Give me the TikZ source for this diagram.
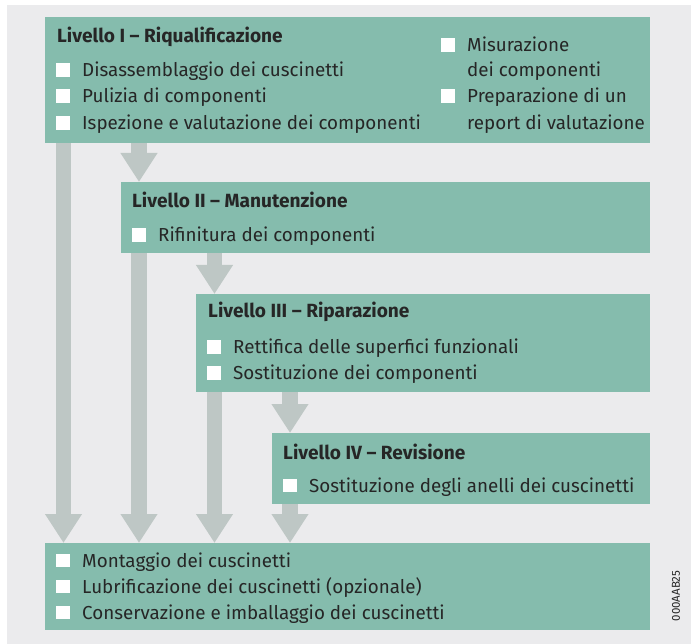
\documentclass[tikz,border=0pt]{standalone}
\usepackage{fontspec}
\setmainfont{Fira Sans}
\usetikzlibrary{arrows.meta}
\definecolor{bgray}{HTML}{EBEBED}
\definecolor{teal}{HTML}{85BCAD}
\definecolor{agray}{HTML}{BEC7C5}
\definecolor{txtc}{HTML}{262626}
\tikzset{
  box/.style={fill=teal, draw=none},
  txt/.style={anchor=base west, inner sep=0pt, font=\fontsize{18.8}{22}\selectfont, text=txtc},
  ttl/.style={txt, font=\fontsize{19.1}{22}\selectfont\bfseries},
  bigarrow/.style={draw=agray, line width=15.5pt, -{Triangle[width=35pt,length=29pt]}, fill=agray},
  chkbox/.style={fill=white}
}
\newcommand\chkitem[4]{%
  \fill[chkbox] (#2-26,#3-13.5) rectangle ++(14,13.5);
  \node[txt] (#1) at (#2,#3) {#4};}
\begin{document}
\begin{tikzpicture}[x=1pt,y=-1pt]
\useasboundingbox (0,0) rectangle (691,644);
\fill[white] (0,0) rectangle (691,644);
\fill[bgray] (7,5) rectangle (691,644);
% boxes
\node[box, minimum width=605pt, minimum height=126pt, anchor=north west, inner sep=0] (b1) at (45,17) {};
\node[box, minimum width=529pt, minimum height=71pt, anchor=north west, inner sep=0] (b2) at (121,182) {};
\node[box, minimum width=454pt, minimum height=98pt, anchor=north west, inner sep=0] (b3) at (196,294) {};
\node[box, minimum width=378pt, minimum height=71pt, anchor=north west, inner sep=0] (b4) at (272,433) {};
\node[box, minimum width=605pt, minimum height=87pt, anchor=north west, inner sep=0] (b5) at (45,543) {};
% arrow columns
\coordinate (cA) at (63.5,0);
\coordinate (cB) at (139,0);
\coordinate (cC) at (214.5,0);
\coordinate (cD) at (290,0);
\draw[bigarrow] (b1.south -| cA) -- (b5.north -| cA);
\draw[bigarrow] (b1.south -| cB) -- (b2.north -| cB);
\draw[bigarrow] (b2.south -| cB) -- (b5.north -| cB);
\draw[bigarrow] (b2.south -| cC) -- (b3.north -| cC);
\draw[bigarrow] (b3.south -| cC) -- (b5.north -| cC);
\draw[bigarrow] (b3.south -| cD) -- (b4.north -| cD);
\draw[bigarrow] (b4.south -| cD) -- (b5.north -| cD);
% box 1
\node[ttl] (t1) at (57,43) {Livello I – Riqualificazione};
\chkitem{i11}{82}{77}{Disassemblaggio dei cuscinetti}
\chkitem{i12}{82}{103}{Pulizia di componenti}
\chkitem{i13}{82}{130}{Ispezione e valutazione dei componenti}
\chkitem{i14}{467}{52}{Misurazione}
\node[txt] (i14b) at (467,77) {dei componenti};
\chkitem{i15}{467}{103}{Preparazione di un}
\node[txt] (i15b) at (467,130) {report di valutazione};
% box 2
\node[ttl] (t2) at (132,208) {Livello II – Manutenzione};
\chkitem{i21}{158}{242}{Rifinitura dei componenti}
% box 3
\node[ttl] (t3) at (208,318) {Livello III – Riparazione};
\chkitem{i31}{233}{354}{Rettifica delle superfici funzionali}
\chkitem{i32}{233}{380}{Sostituzione dei componenti}
% box 4
\node[ttl] (t4) at (283,459) {Livello IV – Revisione};
\chkitem{i41}{309}{492}{Sostituzione degli anelli dei cuscinetti}
% box 5
\chkitem{i51}{82}{567}{Montaggio dei cuscinetti}
\chkitem{i52}{82}{593}{Lubrificazione dei cuscinetti (opzionale)}
\chkitem{i53}{82}{619}{Conservazione e imballaggio dei cuscinetti}
% label
\node[rotate=90, inner sep=0, font=\fontsize{11.5}{13}\selectfont, text=txtc] (lbl) at (676,596) {000AAB25};
\end{tikzpicture}
\end{document}
